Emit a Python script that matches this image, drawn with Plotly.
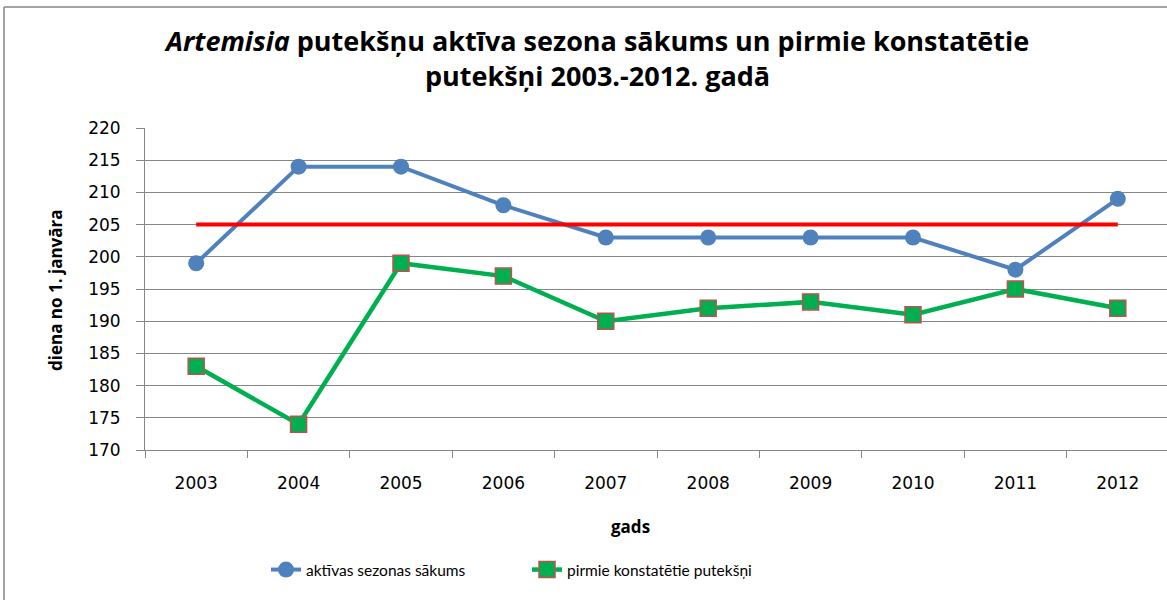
import plotly.graph_objects as go

years = ["2003", "2004", "2005", "2006", "2007", "2008", "2009", "2010", "2011", "2012"]
season_start = [199, 214, 214, 208, 203, 203, 203, 203, 198, 209]
first_pollen = [183, 174, 199, 197, 190, 192, 193, 191, 195, 192]
average_start = [205] * len(years)

title_text = "<i>Artemisia</i> putekšņu aktīva sezona sākums un pirmie konstatētie<br>putekšņi 2003.-2012. gadā"
y_title = "diena no 1. janvāra"
x_title = "gads"
name_blue = "aktīvas sezonas sākums"
name_green = "pirmie konstatētie putekšņi"

W, H = 1167, 600
L, T = 145, 128
R = 0
B = H - 450
pw, ph = W - L - R, H - T - B

def px(x):
    return (x - L) / pw

def py(y):
    return (H - B - y) / ph

fig = go.Figure()
fig.add_trace(go.Scatter(
    x=years, y=season_start, mode="lines+markers", name=name_blue,
    line=dict(color="#4F81BD", width=4),
    marker=dict(symbol="circle", size=16, color="#4F81BD"),
))
fig.add_trace(go.Scatter(
    x=years, y=first_pollen, mode="lines+markers", name=name_green,
    line=dict(color="#00B050", width=4.5),
    marker=dict(symbol="square", size=16, color="#00B050", line=dict(color="#C0504D", width=1.5)),
))
fig.add_trace(go.Scatter(
    x=years, y=average_start, mode="lines", showlegend=False,
    line=dict(color="#FF0000", width=4),
))

fig.update_layout(
    width=W, height=H,
    margin=dict(l=L, r=R, t=T, b=B, autoexpand=False),
    paper_bgcolor="white", plot_bgcolor="white",
    showlegend=True,
    legend=dict(orientation="h", x=px(266), xanchor="left", y=py(570), yanchor="middle",
                entrywidth=216, entrywidthmode="pixels",
                font=dict(family="Lato", size=15.5, color="black")),
    font=dict(family="DejaVu Sans", color="black"),
)
fig.add_annotation(text=title_text, xref="paper", yref="paper", x=px(596), y=py(58),
                   xanchor="center", yanchor="middle", showarrow=False,
                   font=dict(family="Open Sans", size=27, color="black", weight="bold"))
fig.add_annotation(text=x_title, xref="paper", yref="paper", x=px(630), y=py(526),
                   xanchor="center", yanchor="middle", showarrow=False,
                   font=dict(family="Open Sans", size=17, color="black", weight="bold"))
fig.add_annotation(text=y_title, xref="paper", yref="paper", x=px(55), y=py(290),
                   xanchor="center", yanchor="middle", showarrow=False, textangle=-90,
                   font=dict(family="Open Sans", size=17, color="black", weight="bold"))

# plot area right edge slightly beyond the page in the reference
fig.update_xaxes(
    type="category", range=[-0.5, 9.5 - 2 / 102.4], automargin=False,
    showline=True, linecolor="#868686", linewidth=1,
    ticks="outside", tickson="boundaries", ticklen=7, tickcolor="#868686",
    ticklabelstandoff=18,
    tickfont=dict(family="DejaVu Sans", size=17, color="black"),
    showgrid=False,
)
fig.update_yaxes(
    range=[170, 220], dtick=5, tick0=170, automargin=False,
    showline=True, linecolor="#868686", linewidth=1,
    ticks="outside", ticklen=8, tickcolor="#868686",
    ticklabelstandoff=12,
    showgrid=True, gridcolor="#868686", gridwidth=1,
    zeroline=False,
    tickfont=dict(family="DejaVu Sans", size=17, color="black"),
)

fig.add_shape(type="line", xref="paper", yref="paper", x0=px(4), x1=px(4), y0=py(620), y1=py(7),
              line=dict(color="#868686", width=1.5))
fig.add_shape(type="line", xref="paper", yref="paper", x0=px(4), x1=px(1200), y0=py(7), y1=py(7),
              line=dict(color="#868686", width=1.5))

fig.write_html("out.html", config={"displayModeBar": False},
               post_script="document.body.style.margin='0px';")
